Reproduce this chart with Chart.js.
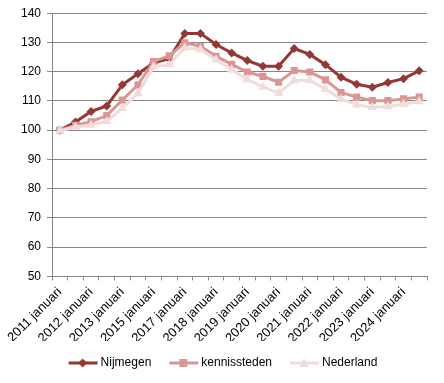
<!DOCTYPE html>
<html><head><meta charset="utf-8">
<script src="https://cdn.jsdelivr.net/npm/chart.js@4"></script>
<style>html,body{margin:0;padding:0;background:#fff}#wrap{width:444px;height:383px}</style>
</head><body><div id="wrap"><canvas id="c" width="444" height="383"></canvas></div>
<script>
const categories = ["2011 januari","2011 juli","2012 januari","2012 juli","2013 januari","2014 januari","2015 januari","2016 januari","2017 januari","2017 juli","2018 januari","2018 juli","2019 januari","2019 juli","2020 januari","2020 juli","2021 januari","2021 juli","2022 januari","2022 juli","2023 januari","2023 juli","2024 januari","2024 juli"];
const nijmegen = [100, 102.8, 106.4, 108.3, 115.5, 119.3, 123.0, 124.4, 133.1, 133.1, 129.3, 126.4, 123.8, 121.9, 121.9, 127.9, 125.9, 122.4, 118.1, 115.7, 114.7, 116.3, 117.6, 120.3];
const kennissteden = [100, 101.7, 102.9, 105.0, 110.3, 115.5, 123.5, 125.4, 129.9, 128.7, 125.3, 122.5, 119.9, 118.4, 116.4, 120.4, 119.9, 117.2, 112.9, 111.3, 110.1, 110.1, 110.7, 111.3];
const nederland = [99.8, 101.1, 101.8, 103.0, 107.5, 112.5, 121.7, 122.4, 128.2, 127.6, 124.1, 120.7, 117.3, 114.8, 112.7, 117.0, 117.0, 114.1, 110.6, 108.7, 107.8, 108.1, 108.9, 109.8];
const yTicks = [50,60,70,80,90,100,110,120,130,140];

const C1 = '#953735', C2 = '#D99694', C3 = '#F2DCDB';
const FONT = '"Liberation Sans", Arial, sans-serif';

function legendIcon(color, shape){
  const cv = document.createElement('canvas');
  cv.width = 32; cv.height = 12;
  const g = cv.getContext('2d');
  g.strokeStyle = color; g.lineWidth = 3;
  g.beginPath(); g.moveTo(2,6); g.lineTo(31,6); g.stroke();
  g.fillStyle = color;
  g.beginPath();
  if (shape === 'diamond'){ g.moveTo(16,1.5); g.lineTo(20.5,6); g.lineTo(16,10.5); g.lineTo(11.5,6); }
  else if (shape === 'square'){ g.rect(12,2,8,8); }
  else { g.moveTo(16,1); g.lineTo(21,10); g.lineTo(11,10); }
  g.closePath(); g.fill();
  return cv;
}

const shiftLegend = {
  id:'shiftLegend',
  afterLayout(chart){
    const l = chart.legend;
    if (!l) return;
    l.top -= 4; l.bottom -= 4; l.left += 3; l.right += 3;
  }
};

new Chart(document.getElementById('c'), {
  type: 'line',
  data: {
    labels: categories,
    datasets: [
      {label:'Nijmegen', data:nijmegen, borderColor:C1, backgroundColor:C1, borderWidth:3, pointStyle:'rectRot', pointRadius:4.5, pointBorderWidth:0, order:3, legendIcon:legendIcon(C1,'diamond')},
      {label:'kennissteden', data:kennissteden, borderColor:C2, backgroundColor:C2, borderWidth:3, pointStyle:'rect', pointRadius:5, pointBorderWidth:0, order:2, legendIcon:legendIcon(C2,'square')},
      {label:'Nederland', data:nederland, borderColor:C3, backgroundColor:C3, borderWidth:3, pointStyle:'triangle', pointRadius:5.5, pointBorderWidth:0, order:1, legendIcon:legendIcon(C3,'triangle')}
    ]
  },
  plugins:[shiftLegend],
  options: {
    responsive:false, animation:false,
    layout:{padding:{left:15,right:17,top:8,bottom:0}},
    plugins:{
      tooltip:{enabled:false},
      legend:{
        position:'bottom',
        labels:{
          usePointStyle:true, pointStyleWidth:24, padding:20,
          font:{family:FONT,size:12}, color:'#000',
          generateLabels(chart){
            return chart.data.datasets.map((d,i)=>({text:d.label, pointStyle:d.legendIcon, fillStyle:d.borderColor, strokeStyle:d.borderColor, lineWidth:0, hidden:false, datasetIndex:i}));
          }
        }
      }
    },
    scales:{
      x:{
        offset:true,
        afterFit(s){ s.height -= 9; },
        grid:{offset:true, drawOnChartArea:false, drawTicks:true, tickLength:4, color:'#868686'},
        border:{color:'#868686', width:1},
        ticks:{autoSkip:false, minRotation:45, maxRotation:45, font:{family:FONT,size:13}, color:'#000', padding:4,
          callback(v,i){ return i%2===0 ? categories[i] : ''; }}
      },
      y:{
        min:50, max:140,
        afterBuildTicks(s){ s.ticks = yTicks.map(v=>({value:v})); },
        grid:{color:'#868686', tickLength:5},
        border:{color:'#868686', width:1},
        ticks:{font:{family:FONT,size:12}, color:'#000', padding:6}
      }
    }
  }
});
</script></body></html>
